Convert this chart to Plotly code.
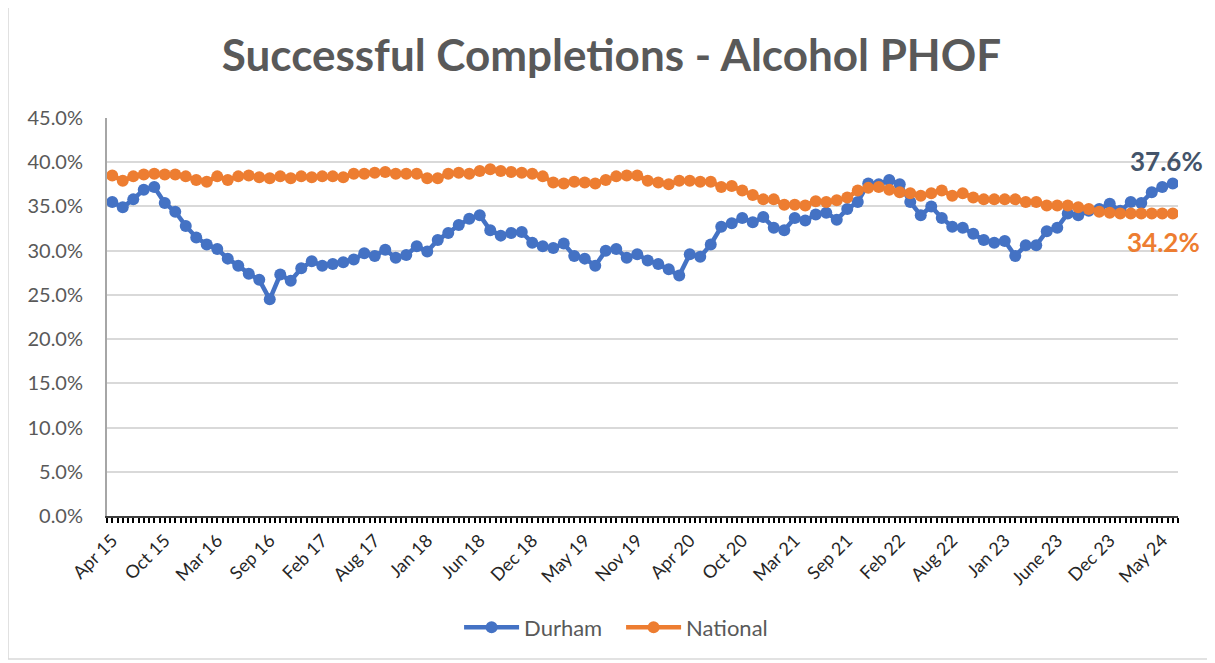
import plotly.graph_objs as go

# one point per period, tick label every 5th point
tick_labels = ['Apr 15', 'Oct 15', 'Mar 16', 'Sep 16', 'Feb 17', 'Aug 17', 'Jan 18',
               'Jun 18', 'Dec 18', 'May 19', 'Nov 19', 'Apr 20', 'Oct 20', 'Mar 21',
               'Sep 21', 'Feb 22', 'Aug 22', 'Jan 23', 'June 23', 'Dec 23', 'May 24']

durham = [35.5, 34.9, 35.8, 36.9, 37.2, 35.4, 34.4, 32.8, 31.5, 30.7,
          30.2, 29.1, 28.3, 27.4, 26.7, 24.5, 27.3, 26.6, 28.0, 28.8,
          28.3, 28.5, 28.7, 29.0, 29.7, 29.4, 30.1, 29.2, 29.5, 30.5,
          29.9, 31.2, 32.0, 32.9, 33.6, 34.0, 32.3, 31.7, 32.0, 32.1,
          30.9, 30.5, 30.3, 30.8, 29.4, 29.1, 28.3, 30.0, 30.2, 29.2,
          29.6, 28.9, 28.5, 27.9, 27.2, 29.6, 29.3, 30.7, 32.7, 33.1,
          33.7, 33.2, 33.8, 32.6, 32.3, 33.7, 33.4, 34.1, 34.3, 33.5,
          34.7, 35.5, 37.6, 37.5, 38.0, 37.5, 35.5, 34.0, 35.0, 33.7,
          32.7, 32.6, 31.9, 31.2, 30.9, 31.1, 29.4, 30.6, 30.6, 32.2,
          32.6, 34.2, 34.0, 34.5, 34.7, 35.3, 34.5, 35.5, 35.4, 36.6,
          37.2, 37.6]

national = [38.5, 37.9, 38.4, 38.6, 38.7, 38.6, 38.6, 38.4, 38.0, 37.8,
            38.4, 38.0, 38.4, 38.5, 38.3, 38.2, 38.4, 38.2, 38.4, 38.3,
            38.4, 38.4, 38.3, 38.7, 38.7, 38.8, 38.9, 38.7, 38.7, 38.7,
            38.2, 38.2, 38.7, 38.8, 38.7, 39.0, 39.2, 39.0, 38.9, 38.8,
            38.7, 38.4, 37.7, 37.6, 37.8, 37.7, 37.6, 38.0, 38.4, 38.5,
            38.5, 37.9, 37.7, 37.5, 37.9, 37.9, 37.8, 37.8, 37.2, 37.3,
            36.8, 36.3, 35.8, 35.8, 35.2, 35.2, 35.1, 35.6, 35.5, 35.7,
            36.0, 36.8, 37.1, 37.2, 36.9, 36.6, 36.5, 36.2, 36.5, 36.8,
            36.2, 36.5, 36.0, 35.8, 35.8, 35.8, 35.8, 35.5, 35.5, 35.1,
            35.1, 35.1, 34.9, 34.7, 34.4, 34.3, 34.2, 34.2, 34.2, 34.2,
            34.2, 34.2]

x = list(range(len(durham)))
tick_pos = x[::5][:len(tick_labels)]

BLUE = '#4472C4'
ORANGE = '#ED7D31'
GREY = '#595959'
FONT = 'Lato'

trace1 = go.Scatter(
    x=x, y=durham, name='Durham', mode='lines+markers',
    line=dict(color=BLUE, width=4.5),
    marker=dict(color=BLUE, size=12)
)
trace2 = go.Scatter(
    x=x, y=national, name='National', mode='lines+markers',
    line=dict(color=ORANGE, width=4.5),
    marker=dict(color=ORANGE, size=12)
)

layout = go.Layout(
    width=1207, height=655,
    margin=dict(l=99, r=37, t=110, b=147),
    paper_bgcolor='white', plot_bgcolor='white',
    font=dict(family=FONT, color=GREY),
    title=dict(text='<b>Successful Completions - Alcohol PHOF</b>',
               x=0.5, xanchor='center', y=0.928, yanchor='middle',
               font=dict(size=44, color=GREY, family=FONT)),
    xaxis=dict(
        range=[-0.5, len(x) - 0.5],
        tickvals=tick_pos, ticktext=tick_labels, tickangle=-45,
        ticks='outside', ticklen=5, tickwidth=1.5, tickcolor='black',
        minor=dict(dtick=0.5, tick0=-0.5, ticks='outside', ticklen=5,
                   tickwidth=1.5, tickcolor='black'),
        showgrid=False, zeroline=False,
        showline=True, linecolor='#404040', linewidth=2,
        tickfont=dict(size=18, color='#262626', family=FONT)
    ),
    yaxis=dict(
        range=[0, 45], dtick=5, tickformat='.1f', ticksuffix='%',
        showgrid=True, gridcolor='#D9D9D9', gridwidth=1.5,
        zeroline=False, showline=True, linecolor='#A6A6A6', linewidth=2,
        ticks='', ticklabelstandoff=18,
        tickfont=dict(size=20, color=GREY, family=FONT)
    ),
    legend=dict(orientation='h', x=0.48, xanchor='center', y=-0.28,
                yanchor='middle', font=dict(size=22, color=GREY, family=FONT),
                itemwidth=55, entrywidth=92, entrywidthmode='pixels'),
    annotations=[
        dict(x=x[-1], y=durham[-1], text='<b>37.6%</b>', showarrow=False,
             yshift=22, xshift=-6, font=dict(size=26, color='#44546A', family=FONT)),
        dict(x=x[-1], y=national[-1], text='<b>34.2%</b>', showarrow=False,
             yshift=-28, xshift=-9, font=dict(size=26, color=ORANGE, family=FONT)),
    ],
    shapes=[
        dict(type='rect', xref='paper', yref='paper',
             x0=-0.0924, x1=1.0317, y0=-0.3593, y1=1.2814,
             line=dict(color='#D9D9D9', width=1.5))
    ],
    showlegend=True
)

fig = go.Figure(data=[trace1, trace2], layout=layout)
fig.write_html('out.html')
